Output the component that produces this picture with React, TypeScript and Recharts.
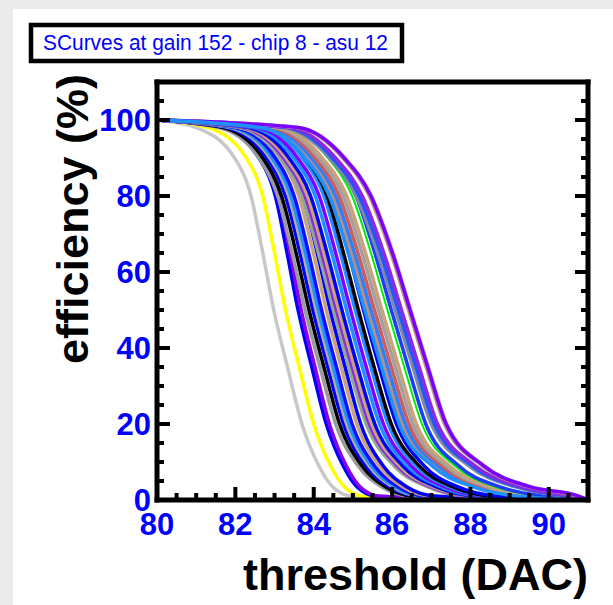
import React from "react";
import { LineChart, Line, XAxis, YAxis } from "recharts";

// efficiency levels (%) at which the crossing thresholds are read
const effLevels = [100, 98, 90, 80, 65, 50, 35, 20, 9, 3.5, 1, 0];
const thrStart = 80;
const thrEnd = 91;

// threshold (DAC) where each channel crosses effLevels[1..10]
const channelCrossings: number[][] = [
  [81.0, 81.98, 82.4, 82.7, 82.98, 83.33, 83.7, 84.13, 84.48, 84.98],
  [81.3, 82.28, 82.7, 83.0, 83.28, 83.63, 84.0, 84.43, 84.78, 85.28],
  [81.62, 82.6, 83.02, 83.32, 83.6, 83.95, 84.32, 84.75, 85.1, 85.6],
  [81.7, 82.68, 83.1, 83.4, 83.68, 84.03, 84.4, 84.83, 85.18, 85.68],
  [81.58, 82.6, 83.08, 83.45, 83.78, 84.16, 84.56, 85.13, 85.73, 86.48],
  [81.68, 82.7, 83.18, 83.55, 83.88, 84.26, 84.66, 85.23, 85.83, 86.58],
  [81.78, 82.8, 83.28, 83.65, 83.98, 84.36, 84.76, 85.33, 85.93, 86.68],
  [81.86, 82.88, 83.36, 83.73, 84.06, 84.44, 84.84, 85.41, 86.01, 86.76],
  [81.92, 82.94, 83.42, 83.79, 84.12, 84.5, 84.9, 85.47, 86.07, 86.82],
  [82.0, 83.02, 83.5, 83.87, 84.2, 84.58, 84.98, 85.55, 86.15, 86.9],
  [82.12, 83.14, 83.62, 83.99, 84.32, 84.7, 85.1, 85.67, 86.27, 87.02],
  [82.22, 83.24, 83.72, 84.09, 84.42, 84.8, 85.2, 85.77, 86.37, 87.12],
  [82.1, 83.15, 83.7, 84.12, 84.5, 84.9, 85.34, 86.05, 86.9, 87.9],
  [82.18, 83.23, 83.78, 84.2, 84.58, 84.98, 85.42, 86.13, 86.98, 87.98],
  [82.24, 83.29, 83.84, 84.26, 84.64, 85.04, 85.48, 86.19, 87.04, 88.04],
  [82.32, 83.37, 83.92, 84.34, 84.72, 85.12, 85.56, 86.27, 87.12, 88.12],
  [82.44, 83.49, 84.04, 84.46, 84.84, 85.24, 85.68, 86.39, 87.24, 88.24],
  [82.54, 83.59, 84.14, 84.56, 84.94, 85.34, 85.78, 86.49, 87.34, 88.34],
  [82.66, 83.71, 84.26, 84.68, 85.06, 85.46, 85.9, 86.61, 87.46, 88.46],
  [82.74, 83.79, 84.34, 84.76, 85.14, 85.54, 85.98, 86.69, 87.54, 88.54],
  [82.87, 83.92, 84.47, 84.89, 85.27, 85.67, 86.11, 86.82, 87.67, 88.67],
  [82.73, 83.86, 84.48, 84.96, 85.38, 85.81, 86.26, 87.1, 88.13, 89.28],
  [82.81, 83.94, 84.56, 85.04, 85.46, 85.89, 86.34, 87.18, 88.21, 89.36],
  [82.9, 84.03, 84.65, 85.13, 85.55, 85.98, 86.43, 87.27, 88.3, 89.45],
  [83.0, 84.13, 84.75, 85.23, 85.65, 86.08, 86.53, 87.37, 88.4, 89.55],
  [83.09, 84.22, 84.84, 85.32, 85.74, 86.17, 86.62, 87.46, 88.49, 89.64],
  [83.23, 84.36, 84.98, 85.46, 85.88, 86.31, 86.76, 87.6, 88.63, 89.78],
  [83.33, 84.46, 85.08, 85.56, 85.98, 86.41, 86.86, 87.7, 88.73, 89.88],
  [83.22, 84.4, 85.08, 85.63, 86.08, 86.53, 87.0, 87.96, 89.13, 90.38],
  [83.3, 84.48, 85.16, 85.71, 86.16, 86.61, 87.08, 88.04, 89.21, 90.46],
  [83.38, 84.56, 85.24, 85.79, 86.24, 86.69, 87.16, 88.12, 89.29, 90.54],
  [83.56, 84.74, 85.42, 85.97, 86.42, 86.87, 87.34, 88.3, 89.47, 90.72],
  [83.62, 84.8, 85.48, 86.03, 86.48, 86.93, 87.4, 88.36, 89.53, 90.78],
  [83.6, 84.78, 85.46, 86.01, 86.46, 86.91, 87.38, 88.34, 89.51, 90.76],
  [82.65, 83.78, 84.4, 84.88, 85.3, 85.73, 86.18, 87.02, 88.05, 89.2],
];

const channelColors = [
  "#c8c8c8", "#ffff00", "#0000ff", "#8800ee", "#9a9a9a", "#000000", "#0000ff",
  "#b4ad98", "#1e90ff", "#1010ff", "#c9a27c", "#0000ff", "#8fa890", "#8a2be2",
  "#c9a27c", "#0000ff", "#1e90ff", "#7f00ff", "#1e90ff", "#000000", "#0000ff",
  "#bc8f80", "#2b80ff", "#cd5c5c", "#a0a0a0", "#c9a27c", "#00ee00", "#1c3cff",
  "#8088a8", "#2255ff", "#8a2be2", "#c09080", "#c8c4ac", "#7a00ff", "#1e90ff",
];

const xMajorTicks = [80, 82, 84, 86, 88, 90];
const xMinorTicks = [80, 80.5, 81, 81.5, 82, 82.5, 83, 83.5, 84, 84.5, 85, 85.5, 86, 86.5, 87, 87.5, 88, 88.5, 89, 89.5, 90, 90.5, 91];
const yMajorTicks = [0, 20, 40, 60, 80, 100];
const yMinorTicks = [0, 5, 10, 15, 20, 25, 30, 35, 40, 45, 50, 55, 60, 65, 70, 75, 80, 85, 90, 95, 100, 105, 110];

const FONT = "'Liberation Sans', Arial, Helvetica, sans-serif";
const BLUE = "#0000ff";

const channelData = channelCrossings.map((row) => [
  { thr: thrStart, eff: effLevels[0] },
  ...row.map((t, k) => ({ thr: t, eff: effLevels[k + 1] })),
  { thr: thrEnd, eff: effLevels[effLevels.length - 1] },
]);

type Side = "bottom" | "top" | "left" | "right";

function tickRenderer(side: Side, majors: number[], withLabels: boolean) {
  return (props: any) => {
    const { x, y, payload } = props;
    const v = payload.value;
    const major = majors.includes(v);
    const len = major ? 13 : 7;
    const dx = side === "left" ? len : side === "right" ? -len : 0;
    const dy = side === "bottom" ? -len : side === "top" ? len : 0;
    return (
      <g>
        <line x1={x} y1={y} x2={x + dx} y2={y + dy} stroke="#000" strokeWidth={4} />
        {withLabels && major && side === "bottom" && (
          <text x={x} y={y + 35} textAnchor="middle" fill={BLUE} fontFamily={FONT} fontWeight="bold" fontSize={31}>
            {v}
          </text>
        )}
        {withLabels && major && side === "left" && (
          <text x={x - 6} y={y + 11} textAnchor="end" fill={BLUE} fontFamily={FONT} fontWeight="bold" fontSize={31}>
            {v}
          </text>
        )}
      </g>
    );
  };
}

const frame = { stroke: "#000", strokeWidth: 5, strokeLinecap: "square" as const };

export default function App() {
  return (
    <div style={{ position: "absolute", left: 0, top: 0, width: 613, height: 605, background: "#ebebeb", overflow: "hidden" }}>
      <div style={{ position: "absolute", left: 13, top: 9, width: 600, height: 596, background: "#ffffff" }} />
      <div style={{ position: "absolute", left: 0, top: 0 }}>
        <LineChart width={613} height={605} margin={{ top: 81, right: 24, bottom: 104, left: 156 }}>
          <XAxis
            dataKey="thr"
            type="number"
            domain={[thrStart, thrEnd]}
            ticks={xMinorTicks}
            interval={0}
            height={1}
            tickSize={0}
            tickMargin={0}
            tickLine={false}
            axisLine={frame}
            tick={tickRenderer("bottom", xMajorTicks, true)}
          />
          <XAxis
            xAxisId="top"
            orientation="top"
            type="number"
            domain={[thrStart, thrEnd]}
            allowDataOverflow
            ticks={xMinorTicks}
            interval={0}
            height={1}
            tickSize={0}
            tickMargin={0}
            tickLine={false}
            axisLine={frame}
            tick={tickRenderer("top", xMajorTicks, false)}
          />
          <YAxis
            type="number"
            domain={[0, 110]}
            ticks={yMinorTicks}
            interval={0}
            width={1}
            tickSize={0}
            tickMargin={0}
            tickLine={false}
            axisLine={frame}
            tick={tickRenderer("left", yMajorTicks, true)}
          />
          <YAxis
            yAxisId="right"
            orientation="right"
            type="number"
            domain={[0, 110]}
            allowDataOverflow
            ticks={yMinorTicks}
            interval={0}
            width={1}
            tickSize={0}
            tickMargin={0}
            tickLine={false}
            axisLine={frame}
            tick={tickRenderer("right", yMajorTicks, false)}
          />
          {channelData.map((d, i) => (
            <Line
              key={i}
              data={d}
              dataKey="eff"
              type="monotone"
              stroke={channelColors[i]}
              strokeWidth={channelColors[i] === "#00ee00" ? 2 : 3.5}
              dot={false}
              activeDot={false}
              isAnimationActive={false}
            />
          ))}
        </LineChart>
      </div>
      <svg style={{ position: "absolute", left: 0, top: 0, pointerEvents: "none" }} width={613} height={605}>
        <rect x={31} y={25} width={371} height={36} fill="#fff" stroke="#000" strokeWidth={4.5} />
        <text x={43} y={50} fill={BLUE} fontFamily={FONT} fontSize={22} textLength={345} lengthAdjust="spacingAndGlyphs">
          SCurves at gain 152 - chip 8 - asu 12
        </text>
        <text x={588} y={590} textAnchor="end" fill="#000" fontFamily={FONT} fontWeight="bold" fontSize={45}>
          threshold (DAC)
        </text>
        <text
          transform="translate(88,74) rotate(-90)"
          textAnchor="end"
          fill="#000"
          fontFamily={FONT}
          fontWeight="bold"
          fontSize={45}
        >
          efficiency (%)
        </text>
      </svg>
    </div>
  );
}
